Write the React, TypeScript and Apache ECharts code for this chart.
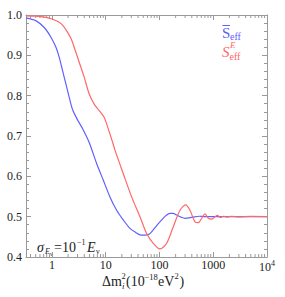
import React, { useEffect, useRef } from 'react';
import * as echarts from 'echarts';

const blueX = [0.33, 0.5, 0.72, 0.96, 1.19, 1.37, 1.58, 1.82, 2.1, 2.43, 3.0, 3.73, 4.94, 6.79, 9.0, 12, 16, 21.2, 28.3, 36, 43.4, 53.7, 65, 76.7, 92, 110, 130, 157, 180, 209, 250, 298, 360, 425, 550, 703, 1000, 2000, 5000, 10000];
const blueY = [0.993, 0.986, 0.969, 0.945, 0.92, 0.895, 0.862, 0.829, 0.796, 0.765, 0.74, 0.718, 0.684, 0.632, 0.591, 0.549, 0.516, 0.492, 0.471, 0.461, 0.455, 0.454, 0.457, 0.467, 0.48, 0.492, 0.502, 0.508, 0.508, 0.504, 0.499, 0.496, 0.497, 0.499, 0.501, 0.5, 0.5, 0.5, 0.5, 0.5];

const redX = [0.33, 0.5, 0.77, 1.0, 1.37, 1.65, 1.96, 2.3, 2.6, 3.22, 3.99, 4.94, 6.12, 7.59, 9.4, 10.9, 13.5, 14.9, 21.2, 30.4, 43.4, 57.8, 76.7, 102, 136, 181, 241, 307, 369, 458, 527, 610, 703, 809, 936, 1079, 1200, 1350, 1550, 1800, 2200, 3000, 5000, 10000];
const redY = [0.998, 0.997, 0.994, 0.99, 0.982, 0.972, 0.957, 0.94, 0.92, 0.883, 0.846, 0.804, 0.779, 0.763, 0.746, 0.722, 0.684, 0.665, 0.607, 0.549, 0.5, 0.458, 0.434, 0.42, 0.434, 0.475, 0.516, 0.529, 0.516, 0.487, 0.485, 0.496, 0.507, 0.496, 0.494, 0.5, 0.503, 0.498, 0.501, 0.499, 0.501, 0.4995, 0.5005, 0.5];

const xMinorTicks = [0.4, 0.5, 0.6, 0.7, 0.8, 0.9, 2, 3, 4, 5, 6, 7, 8, 9, 20, 30, 40, 50, 60, 70, 80, 90, 200, 300, 400, 500, 600, 700, 800, 900, 2000, 3000, 4000, 5000, 6000, 7000, 8000, 9000];
const xLabels: Record<string, string> = { '1': '1', '10': '10', '100': '100', '1000': '1000', '10000': '{b|10}{s|4}' };

const SERIF = '"Liberation Serif", "DejaVu Serif", serif';
const FRAME = '#9a9a9a';
const BLUE = '#6060ff';
const RED = '#ff6868';
const INK = '#222';

function txt(text: string, left: number, cy: number, size: number, fill: string, italic = false) {
  return {
    type: 'text',
    x: left,
    y: cy,
    silent: true,
    style: {
      text,
      font: `${italic ? 'italic ' : ''}${size}px ${SERIF}`,
      fill,
      align: 'left',
      verticalAlign: 'middle',
    },
  };
}

export default function App() {
  const ref = useRef<HTMLDivElement>(null);
  useEffect(() => {
    const chart = echarts.init(ref.current!, null, { renderer: 'svg' });
    const xBase = {
      type: 'log' as const,
      logBase: 10,
      min: 0.33,
      max: 10000,
      axisLine: { show: true, lineStyle: { color: FRAME, width: 1 } },
      axisTick: { show: true, inside: true, length: 5, lineStyle: { color: FRAME } },
      splitLine: { show: false },
    };
    const yBase = {
      type: 'value' as const,
      min: 0.4,
      max: 1.0,
      interval: 0.1,
      axisLine: { show: true, lineStyle: { color: FRAME, width: 1 } },
      axisTick: { show: true, inside: true, length: 5, lineStyle: { color: FRAME } },
      minorTick: { show: true, splitNumber: 5, length: 3, lineStyle: { color: FRAME } },
      splitLine: { show: false },
    };
    chart.setOption({
      animation: false,
      grid: { left: 26, right: 18, top: 15, bottom: 40 },
      xAxis: [
        {
          ...xBase,
          position: 'bottom',
          axisLabel: {
            show: true,
            margin: 2,
            color: INK,
            fontFamily: SERIF,
            fontSize: 12,
            showMinLabel: false,
            formatter: (v: number) => {
              const l = Math.log10(v);
              if (Math.abs(l - Math.round(l)) > 1e-6) return '';
              const key = String(Math.round(Math.pow(10, Math.round(l))));
              return xLabels[key] || '';
            },
            rich: {
              b: { fontFamily: SERIF, fontSize: 12, color: INK },
              s: { fontFamily: SERIF, fontSize: 8, color: INK, padding: [0, 0, 7, 0] },
            },
          },
        },
        { ...xBase, position: 'top', axisLabel: { show: false } },
      ],
      yAxis: [
        {
          ...yBase,
          position: 'left',
          axisLabel: {
            show: true,
            margin: 4,
            color: INK,
            fontFamily: SERIF,
            fontSize: 12,
            formatter: (v: number) => v.toFixed(1),
          },
        },
        { ...yBase, position: 'right', axisLabel: { show: false } },
      ],
      series: [
        {
          type: 'custom',
          xAxisIndex: 0,
          yAxisIndex: 0,
          silent: true,
          data: xMinorTicks.map((v) => [v, 0.4]),
          renderItem: (_p: any, api: any) => {
            const v = api.value(0);
            const b = api.coord([v, 0.4]);
            const t = api.coord([v, 1.0]);
            return {
              type: 'group',
              children: [
                { type: 'line', shape: { x1: b[0], y1: b[1], x2: b[0], y2: b[1] - 3 }, style: { stroke: FRAME, lineWidth: 1 } },
                { type: 'line', shape: { x1: t[0], y1: t[1], x2: t[0], y2: t[1] + 3 }, style: { stroke: FRAME, lineWidth: 1 } },
              ],
            };
          },
        },
        {
          type: 'line',
          name: 'blue',
          xAxisIndex: 0,
          yAxisIndex: 0,
          data: blueX.map((x, i) => [x, blueY[i]]),
          showSymbol: false,
          smooth: 0.3,
          lineStyle: { color: BLUE, width: 1.2 },
          itemStyle: { color: BLUE },
        },
        {
          type: 'line',
          name: 'red',
          xAxisIndex: 0,
          yAxisIndex: 0,
          data: redX.map((x, i) => [x, redY[i]]),
          showSymbol: false,
          smooth: 0.3,
          lineStyle: { color: RED, width: 1.2 },
          itemStyle: { color: RED },
        },
      ],
      graphic: [
        // x-axis title
        txt('Δm', 102, 281, 14, INK),
        txt('2', 121.5, 276, 8.5, INK),
        txt('i', 122, 286, 9, INK, true),
        txt('(10', 126, 281, 14, INK),
        txt('−18', 144.5, 276.5, 8.5, INK),
        txt('eV', 158, 281, 14, INK),
        txt('2', 174.5, 276, 8.5, INK),
        txt(')', 179.5, 281, 14, INK),
        // sigma annotation
        txt('σ', 37, 247, 14, INK, true),
        txt('E', 45, 251, 8, INK, true),
        txt('ν', 50, 254, 6, INK),
        txt('=10', 54, 247, 14, INK),
        txt('−1', 77, 242, 8, INK),
        txt('E', 87, 247, 14, INK, true),
        txt('ν', 96, 251, 8, INK),
        // legend
        txt('S', 222, 33, 15, BLUE),
        { type: 'line', silent: true, shape: { x1: 222.5, y1: 25.5, x2: 230, y2: 25.5 }, style: { stroke: BLUE, lineWidth: 1 } },
        txt('eff', 230, 36, 10, BLUE),
        txt('S', 222, 52, 15, RED, true),
        txt('E', 230, 45, 9, RED, true),
        txt('eff', 229.5, 56, 10, RED),
      ],
    });
    return () => chart.dispose();
  }, []);
  return <div ref={ref} style={{ position: 'absolute', left: 0, top: 0, width: 285, height: 297 }} />;
}
